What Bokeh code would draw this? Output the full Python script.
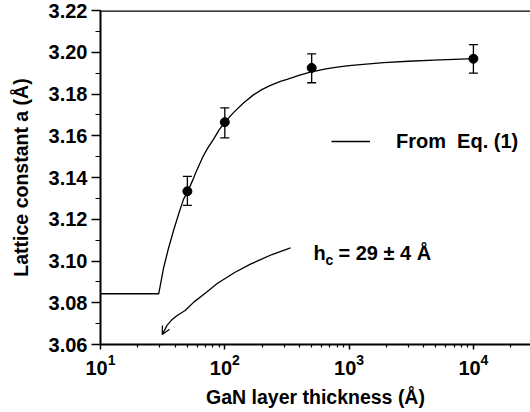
from bokeh.plotting import figure
from bokeh.models import (Range1d, FixedTicker, Whisker, TeeHead, Legend, LegendItem,
                          Label, Arrow, OpenHead, Span, ColumnDataSource, SingleIntervalTicker,
                          NumeralTickFormatter)
from bokeh.embed import file_html
from bokeh.resources import INLINE

# ---- data ----
thickness = [50, 100, 500, 10000]
lattice = [3.1334, 3.1665, 3.1925, 3.1969]
lattice_lo = [3.1266, 3.1590, 3.1854, 3.1900]
lattice_hi = [3.1405, 3.1734, 3.1992, 3.2037]

fit_x = [10, 29.4, 32.1, 35.2, 38.7, 42.4, 46.5, 50.4, 55, 58.1, 62, 66.2, 72, 81.5, 90,
         100, 118, 142, 171, 200, 233, 280, 317, 400, 489, 650, 802, 1000, 1300, 1900,
         3000, 4800, 7000, 10000]
fit_y = [3.0843, 3.0843, 3.0964, 3.1060, 3.1146, 3.1223, 3.1295, 3.1334, 3.1385, 3.1420,
         3.1458, 3.1496, 3.1536, 3.1585, 3.1628, 3.1665, 3.1712, 3.1758, 3.1797, 3.1822,
         3.1841, 3.1860, 3.1870, 3.1890, 3.1905, 3.1920, 3.1929, 3.1936, 3.1942, 3.1950,
         3.1957, 3.1962, 3.1966, 3.1969]

arrow_x = [337.9, 240.0, 161.0, 120.0, 86.9, 70.0, 56.3, 48.0, 41.4, 37.5, 34.4]
arrow_y = [3.1063, 3.1031, 3.0985, 3.0945, 3.0892, 3.0847, 3.0803, 3.0763, 3.0739, 3.0718, 3.0693]
arrow_tip = (31.4, 3.0648)

x_major = [10, 100, 1000, 10000]
x_minor = [m * 10 ** d for d in (1, 2, 3, 4) for m in range(2, 10)]
y_ticks_interval = 0.02

FONT = "Liberation Sans"

p = figure(width=530, height=410, x_axis_type="log",
           x_range=Range1d(10, 28800), y_range=Range1d(3.06, 3.22),
           output_backend="svg", toolbar_location=None,
           min_border_left=100, min_border_right=0, min_border_top=10, min_border_bottom=66)
p.outline_line_color = None
p.xgrid.grid_line_color = None
p.ygrid.grid_line_color = None
p.background_fill_color = "white"
p.border_fill_color = "white"

# axes styling
xa = p.xaxis[0]
xa.ticker = FixedTicker(ticks=x_major, minor_ticks=x_minor)
ya = p.yaxis[0]
ya.ticker = SingleIntervalTicker(interval=y_ticks_interval, num_minor_ticks=2)
ya.formatter = NumeralTickFormatter(format="0.00")
for ax in (xa, ya):
    ax.axis_line_width = 2
    ax.axis_line_color = "black"
    ax.major_tick_line_width = 1.5
    ax.minor_tick_line_width = 1.2
    ax.major_tick_in = 0
    ax.minor_tick_in = 0
    ax.major_label_text_font = FONT
    ax.major_label_text_font_style = "bold"
    ax.major_label_text_font_size = "20px"
    ax.major_label_text_color = "black"
    ax.axis_label_text_font = FONT
    ax.axis_label_text_font_style = "bold"
    ax.axis_label_text_font_size = "19.5px"
    ax.axis_label_text_color = "black"
xa.major_tick_out = 5
xa.minor_tick_out = 3
ya.major_tick_out = 9
ya.minor_tick_out = 5
xa.major_label_standoff = 4
ya.major_label_standoff = 4
xa.axis_label = "GaN layer thickness (Å)"
ya.axis_label = "Lattice constant a (Å)"
xa.axis_label_standoff = 8
ya.axis_label_standoff = 14

# top border line
p.add_layout(Span(location=3.22, dimension="width", line_color="black", line_width=2.5))

# fitted curve
fit_r = p.line(fit_x, fit_y, line_color="black", line_width=1.3)

# data with error bars
src = ColumnDataSource(dict(x=thickness, y=lattice, lo=lattice_lo, hi=lattice_hi))
p.add_layout(Whisker(source=src, base="x", lower="lo", upper="hi", line_color="black",
                     line_width=1.3,
                     lower_head=TeeHead(size=9, line_color="black", line_width=1.3),
                     upper_head=TeeHead(size=9, line_color="black", line_width=1.3)))
p.scatter("x", "y", source=src, size=9, fill_color="black", line_color="black")

# curved arrow annotation
p.line(arrow_x, arrow_y, line_color="black", line_width=1.3)
p.add_layout(Arrow(end=OpenHead(size=8, line_color="black", line_width=1.3),
                   x_start=arrow_x[-1], y_start=arrow_y[-1],
                   x_end=arrow_tip[0], y_end=arrow_tip[1],
                   line_color="black", line_width=1.3))

# h_c label
lab_x, lab_y = 517, 3.1036
for txt, dx, dy, fs in (("h", 0, 0, "20px"), ("c", 12, -7, "14px"), ("= 29 ± 4 Å", 25, 0, "20px")):
    p.add_layout(Label(x=lab_x, y=lab_y, text=txt, x_offset=dx, y_offset=dy,
                       text_font=FONT, text_font_style="bold", text_font_size=fs,
                       text_color="black", text_baseline="alphabetic", text_align="left"))

# legend
legend = Legend(items=[LegendItem(label="From\u00a0 Eq. (1)", renderers=[fit_r])],
                location=(231, 191), glyph_width=39, glyph_height=24, label_standoff=26,
                padding=0, margin=0, border_line_color=None, background_fill_alpha=0,
                label_text_font=FONT, label_text_font_style="bold",
                label_text_font_size="20px", label_text_color="black")
p.add_layout(legend)

open("out.html", "w").write(file_html(p, INLINE))
